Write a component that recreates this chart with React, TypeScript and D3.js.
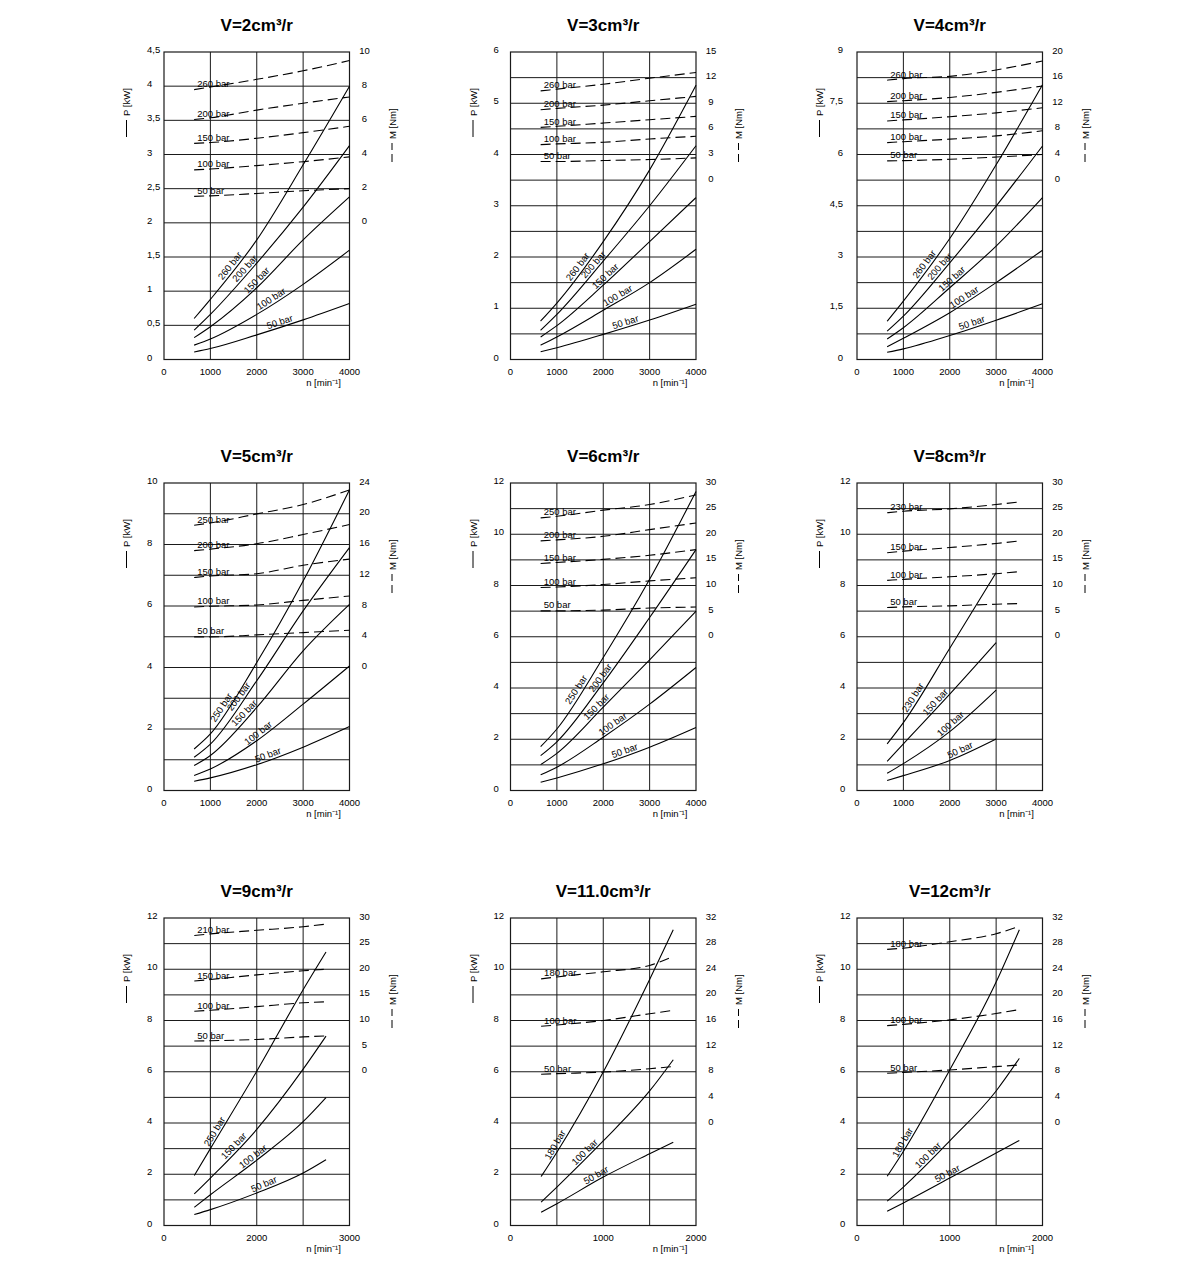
import * as d3 from "d3";

const FONT = "'Liberation Sans Narrow', 'Liberation Sans', Arial, sans-serif";
const TITLE_FONT = "'Liberation Sans', Arial, sans-serif";

const COL_LEFT = [164, 510.5, 857];
const ROW_TOP = [52, 483, 918];
const BOX_W = 185.5;
const BOX_H = 307.5;

// ---- V=2cm³/r
const v2N = [650, 1000, 2000, 3000, 4000];
const v2Bars = [260, 200, 150, 100, 50];
const v2Power = [
  [0.6, 0.88, 1.75, 2.85, 4.0],
  [0.43, 0.66, 1.41, 2.23, 3.13],
  [0.32, 0.48, 1.05, 1.75, 2.38],
  [0.21, 0.3, 0.66, 1.1, 1.6],
  [0.11, 0.16, 0.36, 0.58, 0.82],
];
const v2Torque = [
  [7.8, 7.95, 8.4, 8.9, 9.5],
  [6.05, 6.15, 6.6, 7.0, 7.37],
  [4.65, 4.7, 4.95, 5.28, 5.65],
  [3.1, 3.15, 3.35, 3.58, 3.86],
  [1.55, 1.58, 1.72, 1.88, 2.0],
];
const v2LabelAt = [1510, 1830, 2080, 2370, 2530];

// ---- V=3cm³/r
const v3N = [650, 1000, 2000, 3000, 4000];
const v3Bars = [260, 200, 150, 100, 50];
const v3Power = [
  [0.75, 1.1, 2.3, 3.7, 5.35],
  [0.57, 0.88, 1.92, 3.0, 4.17],
  [0.44, 0.66, 1.45, 2.3, 3.16],
  [0.28, 0.44, 0.96, 1.5, 2.15],
  [0.15, 0.23, 0.49, 0.77, 1.08],
];
const v3Torque = [
  [10.45, 10.65, 11.23, 11.93, 12.6],
  [8.24, 8.4, 8.78, 9.29, 9.8],
  [6.18, 6.3, 6.68, 7.07, 7.46],
  [4.16, 4.24, 4.43, 4.82, 5.13],
  [2.18, 2.18, 2.29, 2.41, 2.6],
];
const v3LabelAt = [1540, 1870, 2120, 2370, 2510];

// ---- V=4cm³/r
const v4N = [650, 1000, 2000, 3000, 4000];
const v4Bars = [260, 200, 150, 100, 50];
const v4Power = [
  [1.12, 1.71, 3.54, 5.7, 8.04],
  [0.83, 1.27, 2.83, 4.49, 6.25],
  [0.6, 0.93, 2.1, 3.32, 4.74],
  [0.37, 0.62, 1.37, 2.25, 3.2],
  [0.21, 0.31, 0.7, 1.15, 1.63],
];
const v4Torque = [
  [15.6, 15.85, 16.2, 17.2, 18.6],
  [12.25, 12.4, 12.9, 13.7, 14.7],
  [9.24, 9.4, 9.9, 10.5, 11.3],
  [5.85, 6.0, 6.4, 6.9, 7.7],
  [3.0, 3.04, 3.25, 3.6, 4.0],
];
const v4LabelAt = [1540, 1870, 2120, 2370, 2510];

// ---- V=5cm³/r
const v5N = [650, 1000, 2000, 3000, 4000];
const v5Bars = [250, 200, 150, 100, 50];
const v5Power = [
  [1.35, 1.84, 4.16, 6.81, 9.78],
  [1.08, 1.51, 3.57, 5.84, 7.9],
  [0.81, 1.14, 2.7, 4.54, 6.05],
  [0.49, 0.7, 1.62, 2.81, 4.05],
  [0.3, 0.41, 0.84, 1.41, 2.08],
];
const v5Torque = [
  [18.5, 18.8, 19.98, 21.2, 23.1],
  [15.2, 15.4, 16.1, 17.3, 18.6],
  [11.7, 11.9, 12.2, 13.3, 14.1],
  [7.87, 7.96, 8.13, 8.73, 9.3],
  [3.98, 3.98, 4.24, 4.54, 4.84],
];
const v5LabelAt = [1330, 1700, 1810, 2100, 2280];

// ---- V=6cm³/r
const v6N = [650, 1000, 2000, 3000, 4000];
const v6Bars = [250, 200, 150, 100, 50];
const v6Power = [
  [1.71, 2.4, 5.19, 8.24, 11.67],
  [1.36, 1.9, 4.2, 6.75, 9.4],
  [1.01, 1.45, 3.25, 5.1, 7.0],
  [0.61, 0.91, 2.08, 3.37, 4.8],
  [0.32, 0.49, 1.04, 1.69, 2.46],
];
const v6Torque = [
  [23.2, 23.5, 24.7, 25.8, 27.7],
  [18.7, 18.9, 19.6, 20.9, 22.2],
  [14.3, 14.5, 15.1, 15.9, 17.0],
  [9.6, 9.7, 10.2, 10.9, 11.5],
  [5.05, 5.05, 5.2, 5.6, 5.8],
];
const v6LabelAt = [1510, 2030, 1930, 2270, 2500];

// ---- V=8cm³/r
const v8PowerN = [650, 1000, 2000, 3000];
const v8TorqueN = [650, 1000, 2000, 3000, 3500];
const v8Bars = [230, 150, 100, 50];
const v8Power = [
  [1.82, 2.65, 5.55, 8.5],
  [1.14, 1.82, 3.76, 5.77],
  [0.67, 1.05, 2.3, 3.92],
  [0.39, 0.58, 1.17, 2.01],
];
const v8Torque = [
  [24.2, 24.5, 24.95, 25.8, 26.3],
  [16.4, 16.7, 17.4, 18.2, 18.7],
  [11.0, 11.2, 11.7, 12.3, 12.7],
  [5.7, 5.83, 6.03, 6.35, 6.48],
];
const v8LabelAt = [1300, 1770, 2090, 2270];

// ---- V=9cm³/r
const v9N = [490, 750, 1500, 2250, 2620];
const v9PowerBars = [250, 150, 100, 50];
const v9TorqueBars = [210, 150, 100, 50];
const v9Power = [
  [1.95, 3.0, 6.02, 9.2, 10.67],
  [1.23, 1.85, 3.75, 6.1, 7.39],
  [0.71, 1.2, 2.55, 4.05, 4.99],
  [0.43, 0.62, 1.27, 2.05, 2.57],
];
const v9Torque = [
  [26.6, 26.9, 27.6, 28.3, 28.8],
  [17.7, 18.0, 18.9, 19.7, 20.0],
  [11.8, 12.0, 12.7, 13.45, 13.65],
  [6.0, 6.05, 6.3, 6.8, 7.0],
];
const v9LabelAt = [890, 1190, 1490, 1650];

// ---- V=11.0cm³/r
const v11N = [330, 500, 1000, 1500, 1755];
const v11Bars = [180, 100, 50];
const v11Power = [
  [1.91, 2.86, 5.99, 9.6, 11.54],
  [0.91, 1.5, 3.3, 5.25, 6.47],
  [0.52, 0.85, 1.89, 2.8, 3.25],
];
const v11Torque = [
  [22.5, 22.8, 23.6, 24.6, 26.0],
  [15.1, 15.3, 16.0, 17.05, 17.6],
  [7.6, 7.7, 7.95, 8.47, 8.83],
];
const v11LabelAt = [530, 840, 950];

// ---- V=12cm³/r
const v12N = [325, 500, 1000, 1500, 1750];
const v12Bars = [180, 100, 50];
const v12Power = [
  [1.92, 2.89, 6.07, 9.5, 11.54],
  [0.95, 1.5, 3.3, 5.25, 6.52],
  [0.56, 0.88, 1.85, 2.83, 3.32],
];
const v12Torque = [
  [27.1, 27.3, 28.3, 29.55, 30.7],
  [15.2, 15.4, 16.1, 17.1, 17.7],
  [7.76, 7.9, 8.28, 8.8, 9.06],
];
const v12LabelAt = [540, 805, 1000];

// axis ticks
const x4000Ticks = [0, 1000, 2000, 3000, 4000];
const x4000Labels = ["0", "1000", "2000", "3000", "4000"];
const x3000Ticks = [0, 1500, 3000];
const x3000Labels = ["0", "2000", "3000"];
const x2000Ticks = [0, 1000, 2000];
const x2000Labels = ["0", "1000", "2000"];

const p45Ticks = [0, 0.5, 1, 1.5, 2, 2.5, 3, 3.5, 4, 4.5];
const p6Ticks = [0, 1, 2, 3, 4, 5, 6];
const p9Ticks = [0, 1.5, 3, 4.5, 6, 7.5, 9];
const p10Ticks = [0, 2, 4, 6, 8, 10];
const p12Ticks = [0, 2, 4, 6, 8, 10, 12];

const m10Ticks = [0, 2, 4, 6, 8, 10];
const m15Ticks = [0, 3, 6, 9, 12, 15];
const m20Ticks = [0, 4, 8, 12, 16, 20];
const m24Ticks = [0, 4, 8, 12, 16, 20, 24];
const m30Ticks = [0, 5, 10, 15, 20, 25, 30];
const m32Ticks = [0, 4, 8, 12, 16, 20, 24, 28, 32];

type Spec = {
  title: string;
  xMax: number;
  xTicks: number[];
  xLabels: string[];
  pMax: number;
  pGrid: number;
  pTicks: number[];
  mTicks: number[];
  pAtM0: number;
  powerN: number[];
  powerBars: number[];
  power: number[][];
  labelAt: number[];
  torqueN: number[];
  torqueBars: number[];
  torque: number[][];
  leftAnchor?: string;
};

const specs: Spec[] = [
  { title: "V=2cm³/r", xMax: 4000, xTicks: x4000Ticks, xLabels: x4000Labels, pMax: 4.5, pGrid: 0.5, pTicks: p45Ticks, mTicks: m10Ticks, pAtM0: 2, powerN: v2N, powerBars: v2Bars, power: v2Power, labelAt: v2LabelAt, torqueN: v2N, torqueBars: v2Bars, torque: v2Torque },
  { title: "V=3cm³/r", xMax: 4000, xTicks: x4000Ticks, xLabels: x4000Labels, pMax: 6, pGrid: 0.5, pTicks: p6Ticks, mTicks: m15Ticks, pAtM0: 3.5, powerN: v3N, powerBars: v3Bars, power: v3Power, labelAt: v3LabelAt, torqueN: v3N, torqueBars: v3Bars, torque: v3Torque },
  { title: "V=4cm³/r", xMax: 4000, xTicks: x4000Ticks, xLabels: x4000Labels, pMax: 9, pGrid: 0.75, pTicks: p9Ticks, mTicks: m20Ticks, pAtM0: 5.25, powerN: v4N, powerBars: v4Bars, power: v4Power, labelAt: v4LabelAt, torqueN: v4N, torqueBars: v4Bars, torque: v4Torque, leftAnchor: "end" },
  { title: "V=5cm³/r", xMax: 4000, xTicks: x4000Ticks, xLabels: x4000Labels, pMax: 10, pGrid: 1, pTicks: p10Ticks, mTicks: m24Ticks, pAtM0: 4, powerN: v5N, powerBars: v5Bars, power: v5Power, labelAt: v5LabelAt, torqueN: v5N, torqueBars: v5Bars, torque: v5Torque },
  { title: "V=6cm³/r", xMax: 4000, xTicks: x4000Ticks, xLabels: x4000Labels, pMax: 12, pGrid: 1, pTicks: p12Ticks, mTicks: m30Ticks, pAtM0: 6, powerN: v6N, powerBars: v6Bars, power: v6Power, labelAt: v6LabelAt, torqueN: v6N, torqueBars: v6Bars, torque: v6Torque },
  { title: "V=8cm³/r", xMax: 4000, xTicks: x4000Ticks, xLabels: x4000Labels, pMax: 12, pGrid: 1, pTicks: p12Ticks, mTicks: m30Ticks, pAtM0: 6, powerN: v8PowerN, powerBars: v8Bars, power: v8Power, labelAt: v8LabelAt, torqueN: v8TorqueN, torqueBars: v8Bars, torque: v8Torque },
  { title: "V=9cm³/r", xMax: 3000, xTicks: x3000Ticks, xLabels: x3000Labels, pMax: 12, pGrid: 1, pTicks: p12Ticks, mTicks: m30Ticks, pAtM0: 6, powerN: v9N, powerBars: v9PowerBars, power: v9Power, labelAt: v9LabelAt, torqueN: v9N, torqueBars: v9TorqueBars, torque: v9Torque },
  { title: "V=11.0cm³/r", xMax: 2000, xTicks: x2000Ticks, xLabels: x2000Labels, pMax: 12, pGrid: 1, pTicks: p12Ticks, mTicks: m32Ticks, pAtM0: 4, powerN: v11N, powerBars: v11Bars, power: v11Power, labelAt: v11LabelAt, torqueN: v11N, torqueBars: v11Bars, torque: v11Torque },
  { title: "V=12cm³/r", xMax: 2000, xTicks: x2000Ticks, xLabels: x2000Labels, pMax: 12, pGrid: 1, pTicks: p12Ticks, mTicks: m32Ticks, pAtM0: 4, powerN: v12N, powerBars: v12Bars, power: v12Power, labelAt: v12LabelAt, torqueN: v12N, torqueBars: v12Bars, torque: v12Torque },
];

const fmt = (v: number) => String(v).replace(".", ",");

function Chart({ spec, left, top }: { spec: Spec; left: number; top: number }) {
  const right = left + BOX_W;
  const bottom = top + BOX_H;
  const x = d3.scaleLinear().domain([0, spec.xMax]).range([left, right]);
  const y = d3.scaleLinear().domain([0, spec.pMax]).range([bottom, top]);
  const mMax = spec.mTicks[spec.mTicks.length - 1];
  const yM = d3.scaleLinear().domain([0, mMax]).range([y(spec.pAtM0), top]);

  const nDiv = Math.round(spec.pMax / spec.pGrid);
  const hLines = d3.range(1, nDiv).map((i) => y(i * spec.pGrid));
  const vLines = [1, 2, 3].map((i) => x((spec.xMax * i) / 4));

  const powerLine = (vals: number[]) =>
    d3
      .line<number>()
      .x((_, i) => x(spec.powerN[i]))
      .y((d) => y(d))
      .curve(d3.curveMonotoneX)(vals) || "";
  const torqueLine = (vals: number[]) =>
    d3
      .line<number>()
      .x((_, i) => x(spec.torqueN[i]))
      .y((d) => yM(d))
      .curve(d3.curveMonotoneX)(vals) || "";

  const stroke = "#1a1a1a";

  return (
    <g>
      <text x={(left + right) / 2} y={top - 21} textAnchor="middle" fontFamily={TITLE_FONT} fontWeight="bold" fontSize={17}>
        {spec.title}
      </text>
      {hLines.map((yy, i) => (
        <line key={"h" + i} x1={left} x2={right} y1={yy} y2={yy} stroke={stroke} strokeWidth={1} />
      ))}
      {vLines.map((xx, i) => (
        <line key={"v" + i} x1={xx} x2={xx} y1={top} y2={bottom} stroke={stroke} strokeWidth={1} />
      ))}
      <rect x={left} y={top} width={BOX_W} height={BOX_H} fill="none" stroke={stroke} strokeWidth={1.2} />

      {spec.power.map((vals, i) => (
        <path key={"p" + i} d={powerLine(vals)} fill="none" stroke="#000" strokeWidth={1.1} />
      ))}
      {spec.torque.map((vals, i) => (
        <path key={"m" + i} d={torqueLine(vals)} fill="none" stroke="#000" strokeWidth={1.1} strokeDasharray="10 5" />
      ))}

      {spec.power.map((vals, i) => {
        const interp = d3.scaleLinear().domain(spec.powerN).range(vals);
        const n = spec.labelAt[i];
        const d = spec.xMax / 100;
        const x1 = x(n - d), y1 = y(interp(n - d));
        const x2 = x(n + d), y2 = y(interp(n + d));
        const ang = (Math.atan2(y2 - y1, x2 - x1) * 180) / Math.PI;
        return (
          <text
            key={"pl" + i}
            transform={`translate(${x(n)},${y(interp(n))}) rotate(${ang})`}
            y={-2}
            textAnchor="middle"
            fontFamily={FONT}
            fontSize={9.5}
          >
            {spec.powerBars[i]} bar
          </text>
        );
      })}
      {spec.torque.map((vals, i) => (
        <text key={"ml" + i} x={x(spec.torqueN[0]) + 3} y={yM(vals[0]) - 2.5} fontFamily={FONT} fontSize={9.5}>
          {spec.torqueBars[i]} bar
        </text>
      ))}

      {spec.pTicks.map((v) => (
        <text
          key={"lt" + v}
          x={spec.leftAnchor === "end" ? left - 14 : left - 17}
          y={y(v) + 1}
          textAnchor={spec.leftAnchor === "end" ? "end" : "start"}
          fontFamily={FONT}
          fontSize={9.5}
        >
          {fmt(v)}
        </text>
      ))}
      {spec.mTicks.map((v) => (
        <text key={"rt" + v} x={right + 15} y={yM(v) + 1.5} textAnchor="middle" fontFamily={FONT} fontSize={9.5}>
          {v}
        </text>
      ))}
      {spec.xTicks.map((v, i) => (
        <text key={"xt" + v} x={x(v)} y={bottom + 15} textAnchor="middle" fontFamily={FONT} fontSize={9.5}>
          {spec.xLabels[i]}
        </text>
      ))}

      <text x={right - 26} y={bottom + 26} textAnchor="middle" fontFamily={FONT} fontSize={9.5}>
        n  [min⁻¹]
      </text>

      {/* left axis title: solid legend mark + P [kW] */}
      <g transform={`translate(${left - 34},${top + 65}) rotate(-90)`}>
        <line x1={-20} x2={-3} y1={-3.5} y2={-3.5} stroke="#000" strokeWidth={1} />
        <text x={1} y={0} fontFamily={FONT} fontSize={9.5}>
          P [kW]
        </text>
      </g>
      {/* right axis title: dashed legend mark + M [Nm] */}
      <g transform={`translate(${right + 46},${top + 88}) rotate(-90)`}>
        <line x1={-22} x2={-3} y1={-3.5} y2={-3.5} stroke="#000" strokeWidth={1} strokeDasharray="8 4" />
        <text x={1} y={0} fontFamily={FONT} fontSize={9.5}>
          M [Nm]
        </text>
      </g>
    </g>
  );
}

export default function App() {
  return (
    <svg width={1200} height={1284} style={{ position: "absolute", left: 0, top: 0, background: "#fff" }}>
      <rect width={1200} height={1284} fill="#fff" />
      {specs.map((spec, i) => (
        <Chart key={spec.title} spec={spec} left={COL_LEFT[i % 3]} top={ROW_TOP[Math.floor(i / 3)]} />
      ))}
    </svg>
  );
}
